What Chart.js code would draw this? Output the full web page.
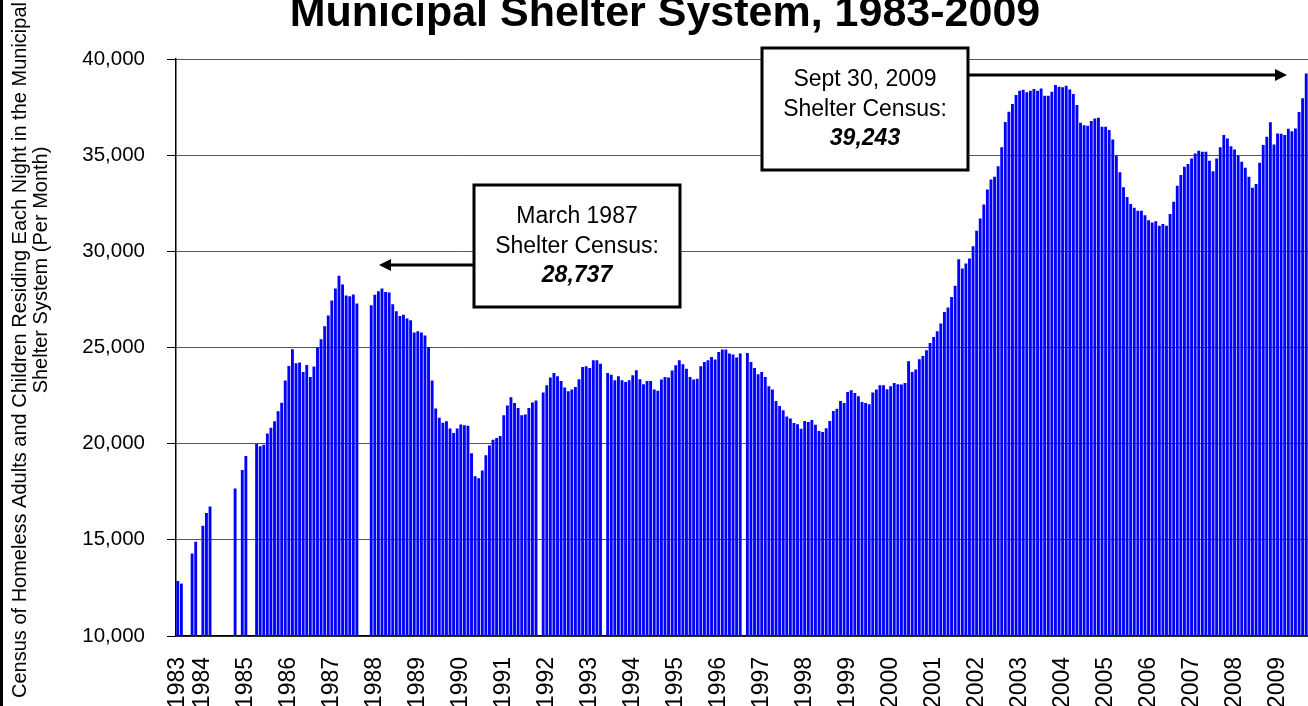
<!DOCTYPE html>
<html>
<head>
<meta charset="utf-8">
<script src="https://cdn.jsdelivr.net/npm/chart.js@4.4.0/dist/chart.umd.min.js"></script>
<style>
  html, body { margin: 0; padding: 0; background: #fff; overflow: hidden; }
  #wrap { width: 1308px; height: 706px; position: relative; }
</style>
</head>
<body>
<div id="wrap"><canvas id="census" width="1308" height="706"></canvas></div>
<script>
/* Municipal shelter census, monthly, Jun 1983 - Sep 2009 */

const chartTitle = 'Municipal Shelter System, 1983-2009';
const yTitle = ['Census of Homeless Adults and Children Residing Each Night in the Municipal', 'Shelter System (Per Month)'];
const monthNames = ['Jan', 'Feb', 'Mar', 'Apr', 'May', 'Jun', 'Jul', 'Aug', 'Sep', 'Oct', 'Nov', 'Dec'];
const yTicks = [10000, 15000, 20000, 25000, 30000, 35000, 40000];

// one array per year; null = month with no count
const c1983 = [12865, 12725, null, null, 14290, 14900, null]; // Jun-Dec
const c1984 = [15730, 16400, 16735, null, null, null, null, null, null, 17670, null, 18630];
const c1985 = [19360, null, null, 20000, 19860, 19950, 20530, 20830, 21170, 21690, 22130, 23280];
const c1986 = [24040, 24910, 24180, 24220, 23730, 24090, 23460, 24010, 25000, 25430, 26110, 26670];
const c1987 = [27450, 28070, 28737, 28280, 27710, 27670, 27760, 27290, null, null, null, 27200];
const c1988 = [27740, 27930, 28070, 27890, 27860, 27250, 26890, 26640, 26700, 26510, 26420, 25780];
const c1989 = [25850, 25780, 25620, 25030, 23290, 21830, 21350, 21090, 21170, 20790, 20550, 20790];
const c1990 = [21000, 20960, 20930, 19500, 18300, 18200, 18600, 19400, 19900, 20200, 20300, 20400];
const c1991 = [21480, 21980, 22410, 22120, 21860, 21480, 21510, 21860, 22140, 22240, null, 22660];
const c1992 = [23040, 23440, 23680, 23510, 23260, 22920, 22730, 22810, 22950, 23350, 23990, 24030];
const c1993 = [23940, 24340, 24340, 24150, null, 23680, 23580, 23300, 23510, 23300, 23210, 23300];
const c1994 = [23560, 23820, 23350, 23090, 23260, 23260, 22810, 22750, 23330, 23470, 23440, 23800];
const c1995 = [24080, 24340, 24130, 23890, 23470, 23340, 23370, 24030, 24250, 24340, 24510, 24380];
const c1996 = [24770, 24900, 24900, 24690, 24640, 24480, 24690, null, 24720, 24250, 23940, 23610];
const c1997 = [23730, 23470, 22990, 22810, 22220, 21960, 21740, 21410, 21310, 21080, 21010, 20770];
const c1998 = [21180, 21130, 21230, 20980, 20660, 20610, 20800, 21180, 21700, 21810, 22220, 22120];
const c1999 = [22680, 22780, 22640, 22470, 22170, 22120, 22050, 22660, 22810, 23040, 23040, 22830];
const c2000 = [22990, 23160, 23090, 23080, 23160, 24290, 23730, 23860, 24390, 24560, 24860, 25240];
const c2001 = [25550, 25850, 26250, 26850, 27080, 27630, 28210, 29590, 29110, 29370, 29630, 30270];
const c2002 = [31070, 31710, 32440, 33220, 33740, 33880, 34430, 35410, 36720, 37260, 37660, 38130];
const c2003 = [38350, 38400, 38270, 38350, 38440, 38350, 38460, 38090, 38090, 38300, 38650, 38560];
const c2004 = [38530, 38610, 38420, 38180, 37610, 36690, 36550, 36530, 36770, 36910, 36950, 36480];
const c2005 = [36480, 36310, 35820, 34970, 34110, 33330, 32820, 32460, 32260, 32110, 32110, 31870];
const c2006 = [31620, 31500, 31570, 31330, 31420, 31330, 31940, 32580, 33410, 33970, 34400, 34540];
const c2007 = [34830, 35090, 35230, 35180, 35180, 34710, 34170, 34830, 35410, 36050, 35870, 35470];
const c2008 = [35300, 34970, 34660, 34350, 33880, 33300, 33500, 34600, 35530, 35960, 36710, 35560];
const c2009 = [36130, 36120, 36050, 36370, 36250, 36390, 37240, 37960, 39243]; // Jan-Sep

const years = [
  [1983, c1983], [1984, c1984], [1985, c1985], [1986, c1986], [1987, c1987], [1988, c1988],
  [1989, c1989], [1990, c1990], [1991, c1991], [1992, c1992], [1993, c1993], [1994, c1994],
  [1995, c1995], [1996, c1996], [1997, c1997], [1998, c1998], [1999, c1999], [2000, c2000],
  [2001, c2001], [2002, c2002], [2003, c2003], [2004, c2004], [2005, c2005], [2006, c2006],
  [2007, c2007], [2008, c2008], [2009, c2009]
];

// flatten into month categories; a year label goes on January (and the very first month)
const categories = [];
const census = [];
const tickLabels = [];
years.forEach(([yr, vals]) => {
  const first = 12 - vals.length;
  vals.forEach((v, i) => {
    const m = yr === 1983 ? first + i : i;
    tickLabels.push(m === 0 || categories.length === 0 ? String(yr) : '');
    categories.push(monthNames[m] + ' ' + yr);
    census.push(v);
  });
});

const fmt = v => v.toLocaleString('en-US');
const marchPeak = census[categories.indexOf('Mar 1987')];
const lastCount = census[census.length - 1];
const noteMarch = ['March 1987', 'Shelter Census:', fmt(marchPeak)];
const noteSept = ['Sept 30, 2009', 'Shelter Census:', fmt(lastCount)];

const FONT = '"Liberation Sans", Arial, sans-serif';

function drawNote(ctx, x, y, w, h, lines) {
  ctx.fillStyle = '#fff';
  ctx.fillRect(x, y, w, h);
  ctx.lineWidth = 3;
  ctx.strokeStyle = '#000';
  ctx.strokeRect(x, y, w, h);
  ctx.fillStyle = '#000';
  ctx.textAlign = 'center';
  ctx.textBaseline = 'middle';
  const cx = x + w / 2;
  ctx.font = '23px ' + FONT;
  ctx.fillText(lines[0], cx, y + 32);
  ctx.fillText(lines[1], cx, y + 61.5);
  ctx.font = 'italic bold 23px ' + FONT;
  ctx.fillText(lines[2], cx, y + 90.5);
}

function drawArrow(ctx, x1, x2, y) {
  const dir = Math.sign(x2 - x1);
  ctx.strokeStyle = '#000';
  ctx.fillStyle = '#000';
  ctx.lineWidth = 3;
  ctx.beginPath();
  ctx.moveTo(x1, y);
  ctx.lineTo(x2 - dir * 10, y);
  ctx.stroke();
  ctx.beginPath();
  ctx.moveTo(x2, y);
  ctx.lineTo(x2 - dir * 12, y - 6);
  ctx.lineTo(x2 - dir * 12, y + 6);
  ctx.closePath();
  ctx.fill();
}

const annotations = {
  id: 'annotations',
  afterDraw(chart) {
    const ctx = chart.ctx;
    ctx.save();

    // main title (top is cropped in the original)
    ctx.fillStyle = '#000';
    ctx.font = 'bold 43px ' + FONT;
    ctx.textAlign = 'center';
    ctx.textBaseline = 'alphabetic';
    ctx.fillText(chartTitle, 665, 26);

    // y axis title, two rotated lines
    ctx.font = '20px ' + FONT;
    ctx.textBaseline = 'middle';
    ctx.save();
    ctx.translate(20, 350);
    ctx.rotate(-Math.PI / 2);
    ctx.fillText(yTitle[0], 0, 0);
    ctx.restore();
    ctx.save();
    ctx.translate(41, 270);
    ctx.rotate(-Math.PI / 2);
    ctx.fillText(yTitle[1], 0, 0);
    ctx.restore();

    // left frame edge
    ctx.fillRect(0, 0, 3, 706);

    // callouts
    drawArrow(ctx, 474, 379, 265);
    drawNote(ctx, 474, 185, 206, 122, noteMarch);
    drawArrow(ctx, 968, 1287, 75);
    drawNote(ctx, 762, 48, 206, 122, noteSept);

    ctx.restore();
  }
};

new Chart(document.getElementById('census'), {
  type: 'bar',
  data: {
    labels: categories,
    datasets: [{
      data: census,
      backgroundColor: '#0000ff',
      barPercentage: 0.8,
      categoryPercentage: 1.0
    }]
  },
  options: {
    responsive: false,
    animation: false,
    layout: { padding: { top: 59, right: 0, bottom: 0, left: 0 } },
    plugins: {
      legend: { display: false },
      tooltip: { enabled: false }
    },
    scales: {
      x: {
        grid: { display: false },
        border: { color: '#000', width: 1.5 },
        ticks: {
          autoSkip: false,
          minRotation: 90,
          maxRotation: 90,
          padding: 13,
          color: '#000',
          font: { family: FONT, size: 23 },
          callback: (v, i) => tickLabels[i]
        },
        afterFit: s => { s.height = 70; s.paddingLeft = 0; s.paddingRight = 0; }
      },
      y: {
        min: yTicks[0],
        max: yTicks[yTicks.length - 1],
        afterBuildTicks: s => { s.ticks = yTicks.map(v => ({ value: v })); },
        ticks: {
          padding: 22,
          color: '#000',
          font: { family: FONT, size: 20.5 },
          callback: v => fmt(v)
        },
        grid: { color: '#555', lineWidth: 1, tickLength: 9, tickColor: '#000' },
        border: { color: '#000', width: 1.5 },
        afterFit: s => { s.width = 176; }
      }
    }
  },
  plugins: [annotations]
});
</script>
</body>
</html>
